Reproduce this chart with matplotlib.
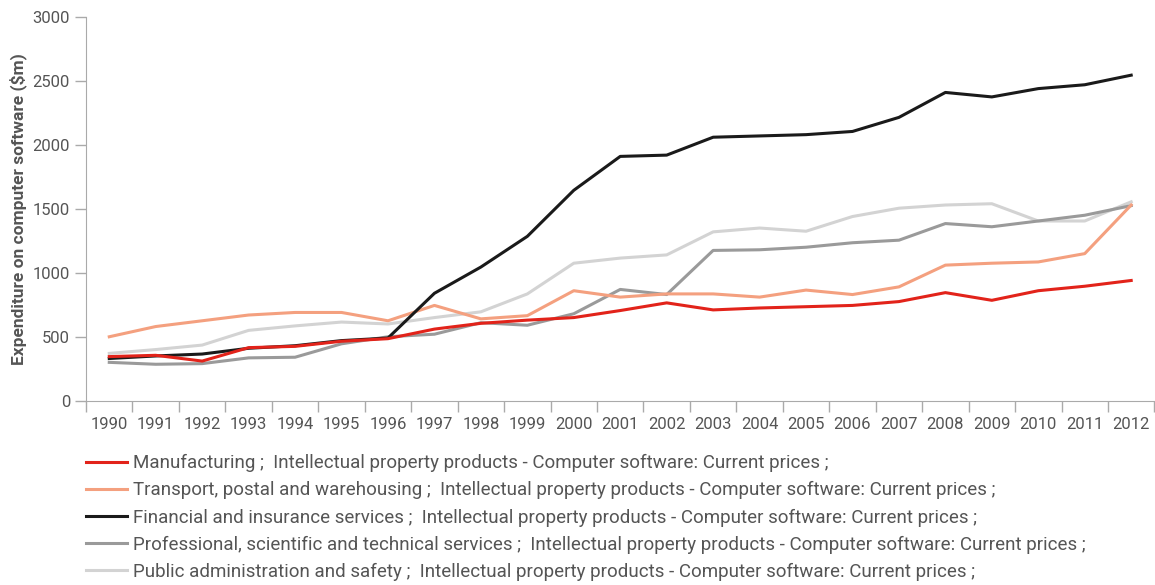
import matplotlib.pyplot as plt
import numpy as np

plt.rcParams['font.family'] = ['Roboto', 'DejaVu Sans']

years = [str(y) for y in range(1990, 2013)]

manufacturing = [345, 355, 310, 415, 425, 465, 485, 560, 605, 630, 650, 705, 765,
                 710, 725, 735, 745, 775, 845, 785, 860, 895, 940]
transport = [500, 580, 625, 670, 690, 690, 625, 745, 640, 665, 860, 810, 835,
             835, 810, 865, 830, 890, 1060, 1075, 1085, 1150, 1530]
financial = [330, 350, 365, 410, 430, 470, 490, 840, 1045, 1285, 1645, 1910, 1920,
             2060, 2070, 2080, 2105, 2215, 2410, 2375, 2440, 2470, 2545]
professional = [300, 285, 290, 335, 340, 445, 500, 520, 610, 590, 680, 870, 830,
                1175, 1180, 1200, 1235, 1255, 1385, 1360, 1405, 1450, 1525]
public_admin = [370, 400, 435, 550, 585, 615, 600, 650, 695, 835, 1075, 1115, 1140,
                1320, 1350, 1325, 1440, 1505, 1530, 1540, 1405, 1405, 1555]

suffix = " ;  Intellectual property products - Computer software: Current prices ;"
names = ["Manufacturing", "Transport, postal and warehousing", "Financial and insurance services",
         "Professional, scientific and technical services", "Public administration and safety"]
colors = ['#e2231a', '#f4a07f', '#1a1a1a', '#9a9a9a', '#d3d3d3']

fig = plt.figure(figsize=(11.55, 5.85), dpi=100)
ax = fig.add_axes([0.0745, 0.315, 0.925, 0.656])

x = np.arange(len(years))
# lighter series first so the dark and red lines sit on top
order = [4, 3, 1, 2, 0]
series = [manufacturing, transport, financial, professional, public_admin]
lines = {}
for i in order:
    ln, = ax.plot(x, series[i], color=colors[i], linewidth=2.2)
    lines[i] = ln

ax.set_xlim(-0.5, len(years) - 0.5)
ax.set_ylim(0, 3000)
ax.set_yticks(range(0, 3001, 500))
ax.set_xticks(x)
ax.set_xticklabels(years)
ax.set_xticks(np.arange(-0.5, len(years)), minor=True)
ax.tick_params(axis='x', which='major', length=0, pad=12, labelsize=12, labelcolor='#555555')
ax.tick_params(axis='x', which='minor', length=8, color='#aaaaaa', width=1)
ax.tick_params(axis='y', length=8, color='#aaaaaa', width=1, labelsize=12, labelcolor='#555555')

for s in ['top', 'right']:
    ax.spines[s].set_visible(False)
for s in ['left', 'bottom']:
    ax.spines[s].set_color('#aaaaaa')

ax.set_ylabel('Expenditure on computer software ($m)', fontsize=12.5, fontweight='bold',
              color='#555555', labelpad=4)

handles = [lines[i] for i in range(5)]
fig.legend(handles, [names[i] + suffix for i in range(5)], loc='upper left',
           bbox_to_anchor=(0.0745, 0.2235), frameon=False, fontsize=13.5,
           labelcolor='#555555', handlelength=2.2, handletextpad=0.3,
           labelspacing=0.48, borderpad=0, borderaxespad=0)

plt.savefig('out.png', dpi=100)
